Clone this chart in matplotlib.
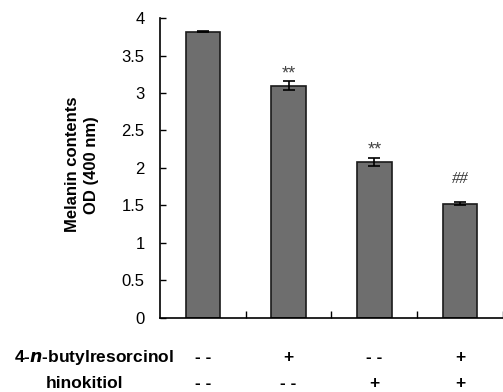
import numpy as np
import matplotlib.pyplot as plt

plt.rcParams['font.family'] = ['Liberation Sans', 'DejaVu Sans']

# data
groups = ['ctrl', 'BR', 'HK', 'BR+HK']
melanin = [3.82, 3.10, 2.08, 1.52]
err = [0.01, 0.055, 0.055, 0.02]
marks = ['', '**', '**', '##']
butyl_row = ['- -', '+', '- -', '+']
hinok_row = ['- -', '- -', '+', '+']

fig = plt.figure(figsize=(5.03, 3.92), dpi=100)
ax = fig.add_axes([0.318, 0.189, 0.682, 0.765])

x = np.arange(len(groups))
ax.bar(x, melanin, width=0.4, color='#6e6e6e', edgecolor='#1a1a1a', linewidth=1.2,
       yerr=err, capsize=4, error_kw=dict(elinewidth=1.2, capthick=1.2, ecolor='black'))

for i, m in enumerate(marks):
    if m == '##':
        ax.text(x[i], melanin[i] + err[i] + 0.31, m, ha='center', va='center',
                fontsize=12, family='Liberation Serif', style='italic', color='#333333')
    elif m:
        ax.text(x[i], melanin[i] + err[i] + 0.1, m, ha='center', va='center',
                fontsize=13, color='#444444')

ax.set_xlim(-0.5, 3.5)
ax.set_ylim(0, 4)
ax.set_yticks(np.arange(0, 4.01, 0.5))
ax.set_yticklabels(['0', '0.5', '1', '1.5', '2', '2.5', '3', '3.5', '4'])
ax.set_xticks([0.5, 1.5, 2.5, 3.5])
ax.set_xticklabels([])
ax.tick_params(axis='both', direction='in', length=4, width=1, labelsize=12, pad=11)
ax.tick_params(axis='x', length=5)
for s in ['top', 'right']:
    ax.spines[s].set_visible(False)
for s in ['left', 'bottom']:
    ax.spines[s].set_linewidth(1.2)

fig.text(0.163, 0.58, 'Melanin contents\nOD (400 nm)', rotation=90, ha='center', va='center',
         fontsize=12, fontweight='bold', linespacing=1.3)

# treatment table under the bars
fig.text(0.187, 0.087, '4-$\\boldsymbol{n}$-butylresorcinol', ha='center', va='center',
         fontsize=12.5, fontweight='bold')
fig.text(0.168, 0.022, 'hinokitiol', ha='center', va='center', fontsize=12.5, fontweight='bold')
for i in range(len(groups)):
    xf = fig.transFigure.inverted().transform(ax.transData.transform((x[i], 0)))[0]
    fig.text(xf, 0.087, butyl_row[i], ha='center', va='center', fontsize=12.5, fontweight='bold')
    fig.text(xf, 0.022, hinok_row[i], ha='center', va='center', fontsize=12.5, fontweight='bold')

fig.savefig('out.png', dpi=100)
